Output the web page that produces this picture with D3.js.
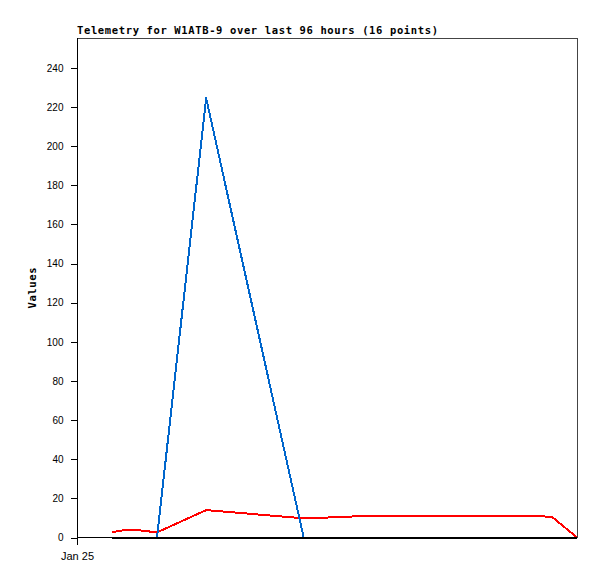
<!DOCTYPE html>
<html>
<head>
<meta charset="utf-8">
<script src="https://cdn.jsdelivr.net/npm/d3@7"></script>
<style>
  html, body { margin: 0; padding: 0; background: #fff; }
  svg { display: block; }
</style>
</head>
<body>
<svg id="chart" width="597" height="579"></svg>
<script>
// ---- data ----
const titleText = "Telemetry for W1ATB-9 over last 96 hours (16 points)";
const yLabel = "Values";
const times = ["2025-01-25T01:24","2025-01-25T01:48","2025-01-25T02:33","2025-01-25T03:12",
               "2025-01-25T05:10","2025-01-25T09:04","2025-01-25T10:13","2025-01-25T11:30",
               "2025-01-25T18:17","2025-01-25T18:46","2025-01-25T19:02","2025-01-25T20:00"];
const redValues   = [2.7, 3.6, 3.6, 2.6, 14.0, 9.8, 10.3, 11.0, 11.0, 10.7, 10.2, 0];
const blueValues  = [null, null, null, 0, 224.5, 0, null, null, null, null, null, null];
const blackValues = [0, 0, 0, 0, 0, 0, 0, 0, 0, 0, 0, 0];
const xDomain = ["2025-01-25T00:00", "2025-01-25T20:00"];
const xTicks = ["2025-01-25T00:00"];
const yTicks = [0, 20, 40, 60, 80, 100, 120, 140, 160, 180, 200, 220, 240];
const yMax = 255.3;

// ---- layout ----
const L = 77, R = 577, T = 38, B = 538;
const parse = d3.timeParse("%Y-%m-%dT%H:%M");
const svg = d3.select("#chart");

const x = d3.scaleTime().domain(xDomain.map(parse)).range([L, R]);
const y = d3.scaleLinear().domain([0, yMax]).range([B - 0.5, T]);

// frame top/right
svg.append("path")
  .attr("d", `M${L},${T + 0.5}H${R + 0.5}V${B}`)
  .attr("fill", "none").attr("stroke", "#444").attr("stroke-width", 1)
  .attr("shape-rendering", "crispEdges");

// y axis
const yAxis = svg.append("g").attr("transform", `translate(${L + 0.5},0)`)
  .call(d3.axisLeft(y).tickValues(yTicks).tickSize(7).tickSizeOuter(0).tickPadding(7));
yAxis.select(".domain").attr("d", `M0,${T}V${B}`);
yAxis.selectAll("line,path").attr("stroke", "#000").attr("shape-rendering", "crispEdges");
yAxis.selectAll("text").attr("font-family", "'Liberation Sans', Arial, sans-serif")
  .attr("font-size", "10px").attr("fill", "#000");

// x axis
const xAxis = svg.append("g").attr("transform", `translate(0,${B - 0.5})`)
  .call(d3.axisBottom(x).tickValues(xTicks.map(parse)).tickFormat(d3.timeFormat("%b %d"))
        .tickSize(7).tickSizeOuter(0).tickPadding(8));
xAxis.select(".domain").attr("d", `M${L},0H${R}`);
xAxis.selectAll("line,path").attr("stroke", "#000").attr("shape-rendering", "crispEdges");
xAxis.selectAll("text").attr("font-family", "'Liberation Sans', Arial, sans-serif")
  .attr("font-size", "11px").attr("fill", "#000");

// series
const series = [
  { values: redValues, color: "#ff0000" },
  { values: blueValues, color: "#0066cc" },
  { values: blackValues, color: "#000000" }
];
const line = d3.line()
  .defined(d => d.v !== null)
  .x(d => x(d.t)).y(d => y(d.v));
series.forEach(s => {
  const pts = times.map((t, i) => ({ t: parse(t), v: s.values[i] }));
  svg.append("path").datum(pts)
    .attr("d", line)
    .attr("fill", "none")
    .attr("stroke", s.color)
    .attr("stroke-width", 2)
    .attr("stroke-linejoin", "round")
    .attr("shape-rendering", "crispEdges");
});

// title
svg.append("text")
  .attr("x", L).attr("y", 34)
  .attr("font-family", "'DejaVu Sans Mono', 'Liberation Mono', monospace")
  .attr("font-weight", "bold").attr("font-size", "10.5px")
  .attr("textLength", 361).attr("lengthAdjust", "spacing")
  .text(titleText);

// y label
svg.append("text")
  .attr("transform", `translate(36,${(T + B) / 2}) rotate(-90)`)
  .attr("text-anchor", "middle")
  .attr("font-family", "'DejaVu Sans Mono', 'Liberation Mono', monospace")
  .attr("font-weight", "bold").attr("font-size", "10.5px")
  .attr("textLength", 41).attr("lengthAdjust", "spacing")
  .text(yLabel);
</script>
</body>
</html>
